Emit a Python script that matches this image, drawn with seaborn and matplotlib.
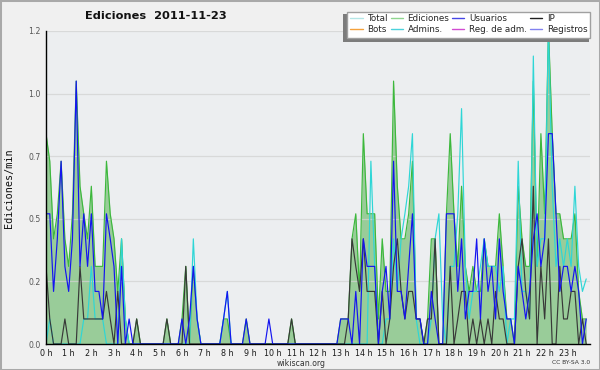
import numpy as np
import pandas as pd
import matplotlib
matplotlib.use("Agg")
import matplotlib.pyplot as plt
from matplotlib.lines import Line2D
from matplotlib.patches import Rectangle
import seaborn as sns

# ---------------- data (edits per minute, 10-minute bins) ----------------
hour_labels = [f"{h} h" for h in range(24)]

ediciones = [
    .84, .73, .42, .52, .73, .42,   .31, .52, 1.05, .63, .52, .42,
    .63, .31, .31, .31, .73, .52,   .42, .21, .42, .1, 0, 0,
    .1, 0, 0, 0, 0, 0,              0, 0, .1, 0, 0, 0,
    .1, .31, 0, .31, .1, 0,         0, 0, 0, 0, 0, .1,
    .1, 0, 0, 0, 0, .1,             0, 0, 0, 0, 0, 0,
    0, 0, 0, 0, 0, .1,              0, 0, 0, 0, 0, 0,
    0, 0, 0, 0, 0, 0,               .1, .1, .1, .42, .52, .21,
    .84, .52, .52, .52, .1, .42,    .21, .21, 1.05, .63, .42, .42,
    .52, .73, .1, .1, 0, .1,        .42, .42, 0, 0, .52, .84,
    .52, .31, .63, .31, .21, .31,   .21, .21, .42, .31, .31, .31,
    .52, .31, .1, .1, 0, .63,       .42, .31, .31, 1.05, .31, .84,
    .52, 1.26, .84, .52, .52, .42,  .42, .42, .52, .21, .1, .1,
]
usuarios = [
    .52, .52, .21, .42, .73, .31,   .21, .42, 1.05, .31, .52, .31,
    .52, .21, .21, .1, .52, .42,    .31, 0, .31, 0, .1, 0,
    0, 0, 0, 0, 0, 0,               0, 0, 0, 0, 0, 0,
    .1, 0, .1, .31, .1, 0,          0, 0, 0, 0, 0, .1,
    .21, 0, 0, 0, 0, .1,            0, 0, 0, 0, 0, .1,
    0, 0, 0, 0, 0, 0,               0, 0, 0, 0, 0, 0,
    0, 0, 0, 0, 0, 0,               .1, .1, .1, 0, .21, 0,
    .42, .31, .31, .31, 0, .21,     .31, .1, .73, .21, .21, .1,
    .31, .52, .1, .1, 0, 0,         .21, .1, 0, 0, .52, .52,
    .52, .21, .42, .1, .21, .21,    .42, .1, .42, .21, .31, .1,
    .42, .21, .1, .1, 0, .31,       .21, .1, .21, .42, .52, .31,
    .42, .84, .84, .52, .21, .31,   .31, .21, .31, .21, 0, .1,
]
ip = [
    .31, .1, 0, 0, 0, .1,           0, 0, 0, .31, .1, .1,
    .1, .1, .1, .1, .21, .1,        0, .21, 0, 0, 0, 0,
    .1, 0, 0, 0, 0, 0,              0, 0, .1, 0, 0, 0,
    0, .31, 0, 0, 0, 0,             0, 0, 0, 0, 0, 0,
    0, 0, 0, 0, 0, 0,               0, 0, 0, 0, 0, 0,
    0, 0, 0, 0, 0, .1,              0, 0, 0, 0, 0, 0,
    0, 0, 0, 0, 0, 0,               0, 0, .1, .42, .31, .21,
    .42, .21, .21, .21, 0, .21,     0, .1, .31, .42, .21, .1,
    .21, .21, .1, .1, 0, .1,        .1, .42, 0, 0, 0, .31,
    0, .1, .21, .21, 0, .1,         0, .1, 0, .1, 0, .21,
    .1, .1, 0, 0, 0, .31,           .42, .21, .1, .63, 0, .31,
    .1, .42, 0, 0, .31, .1,         .1, .21, .21, 0, .1, 0,
]
admins = [
    0, .1, 0, 0, 0, 0,              0, 0, 0, 0, .1, .1,
    .31, .1, .1, .1, 0, 0,          0, 0, .42, .1, 0, 0,
    0, 0, 0, 0, 0, 0,               0, 0, 0, 0, 0, 0,
    0, 0, 0, .42, .1, 0,            0, 0, 0, 0, 0, .1,
    .21, 0, 0, 0, 0, 0,             0, 0, 0, 0, 0, 0,
    0, 0, 0, 0, 0, 0,               0, 0, 0, 0, 0, 0,
    0, 0, 0, 0, 0, 0,               0, 0, 0, 0, 0, 0,
    0, 0, .73, .31, 0, 0,           .1, .1, .42, .21, .42, .52,
    .63, .84, .1, 0, 0, 0,          .1, .42, .52, .1, 0, .31,
    .31, .52, .94, .31, .1, .21,    .21, .31, .42, .31, .31, .31,
    .21, .31, 0, .1, .1, .73,       .21, .21, .1, 1.15, .31, .42,
    .42, 1.26, .63, .31, .42, .31,  .42, .31, .63, .31, .21, .26,
]

legend_labels = ["Total", "Ediciones", "Usuarios", "IP",
                 "Bots", "Admins.", "Reg. de adm.", "Registros"]
legend_colors = ["#b4e6e6", "#8fd68f", "#4646e6", "#202020",
                 "#f5a23c", "#4cd2dc", "#d24cd2", "#8282f0"]

# ---------------- figure ----------------
sns.set_theme(style="white")
plt.rcParams["font.family"] = ["DejaVu Sans"]

W, H = 600, 370
fig = plt.figure(figsize=(W / 100, H / 100), dpi=100, facecolor="#f0f0f0")
fig.patches.append(Rectangle((0, 0), 1, 1, transform=fig.transFigure,
                             fill=False, edgecolor="#a9a9a9", lw=2.2))


def px_rect(xa, ya, xb, yb, **kw):
    return Rectangle((xa / W, 1 - yb / H), (xb - xa) / W, (yb - ya) / H,
                     transform=fig.transFigure, **kw)


x0, x1, y0, y1 = 46, 590, 344, 31
ax = fig.add_axes([x0 / W, (H - y0) / H, (x1 - x0) / W, (y0 - y1) / H])
ax.set_facecolor("#eceef0")

n = len(ediciones)
df = pd.DataFrame({
    "hora": np.arange(n) / 6.0,
    "Ediciones": ediciones,
    "Usuarios": usuarios,
    "IP": ip,
    "Admins.": admins,
})

ax.fill_between(df["hora"], df["Ediciones"], color="#99cc99", lw=0, zorder=1)
for y in [0.25, 0.5, 0.75, 1.0, 1.25]:
    ax.axhline(y, color="#d2d2d2", lw=0.9, alpha=0.75, zorder=1.5)

lw = 0.85
sns.lineplot(data=df, x="hora", y="Ediciones", color="#3cb83c", lw=lw, ax=ax, zorder=3)
sns.lineplot(data=df, x="hora", y="Admins.", color="#2ed6d6", lw=lw, ax=ax, zorder=4)
sns.lineplot(data=df, x="hora", y="IP", color="#383838", lw=lw, ax=ax, zorder=5)
sns.lineplot(data=df, x="hora", y="Usuarios", color="#1414f0", lw=lw, ax=ax, zorder=6)

ax.set_xlim(0, 24)
ax.set_ylim(0, 1.25)
for s in ["top", "right"]:
    ax.spines[s].set_visible(False)
for s in ["left", "bottom"]:
    ax.spines[s].set_color("black")
    ax.spines[s].set_linewidth(1.0)
    ax.spines[s].set_zorder(10)

ax.set_xticks(np.arange(24))
ax.set_xticklabels(hour_labels)
ax.set_xticks(np.arange(0, 24.01, 1 / 6), minor=True)
ax.set_yticks([0, 0.25, 0.5, 0.75, 1.0, 1.25])
ax.set_yticklabels(["0.0", "0.2", "0.5", "0.7", "1.0", "1.2"])
ax.set_yticks(np.arange(0, 1.26, 0.0625), minor=True)
ax.tick_params(axis="both", which="both", direction="out", length=3.2, width=0.9,
               color="black")
ax.tick_params(axis="x", which="major", labelsize=5.8, labelcolor="#1a1a1a", pad=0.3)
ax.tick_params(axis="y", which="major", labelsize=5.6, labelcolor="#555555", pad=0.8)
ax.set_xlabel("")
ax.set_ylabel("")

fig.text(9.5 / W, 1 - 188 / H, "Ediciones/min", rotation=90, va="center", ha="center",
         family="DejaVu Sans Mono", fontsize=7.3, color="#111111")
fig.text(85 / W, 1 - 16 / H, "Ediciones  2011-11-23", ha="left", va="center",
         fontsize=8.2, fontweight="bold", color="#111111")
fig.text(301 / W, 1 - 363 / H, "wikiscan.org", ha="center", va="center",
         fontsize=5.6, color="#333333")
fig.text(590 / W, 1 - 362.5 / H, "CC BY-SA 3.0", ha="right", va="center",
         fontsize=4.3, color="#333333")

# legend frame with shadow (drawn as figure patches)
fig.patches.append(px_rect(343, 14, 589, 41.7, facecolor="#7c7c7c", edgecolor="none", zorder=20))
fig.patches.append(px_rect(346.7, 11.7, 590, 38.3, facecolor="white", edgecolor="#a0a0a0",
                           lw=1.0, zorder=21))

order = [0, 4, 1, 5, 2, 6, 3, 7]
handles = [Line2D([], [], color=legend_colors[i], lw=1.0) for i in order]
labels = [legend_labels[i] for i in order]
leg = fig.legend(handles, labels, ncol=4, loc="upper left",
                 bbox_to_anchor=(349.5 / W, 1 - 13.0 / H), borderaxespad=0,
                 fontsize=6.3, frameon=False,
                 handlelength=1.4, handletextpad=0.55, columnspacing=0.3,
                 labelspacing=0.26, borderpad=0.1)
leg.set_zorder(30)

fig.savefig("out.png", dpi=100, facecolor=fig.get_facecolor())
